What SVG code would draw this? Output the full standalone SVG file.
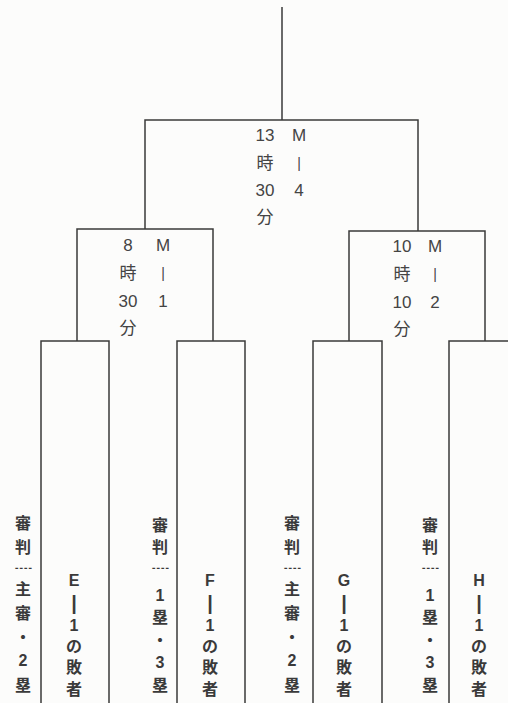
<svg xmlns="http://www.w3.org/2000/svg" width="508" height="703" viewBox="0 0 508 703">
<style>
.ln{fill:none;stroke:#3a3a3a;stroke-width:1.5}
.t{font-family:"Liberation Sans","Noto Sans CJK JP",sans-serif;font-size:17px;fill:#444;text-anchor:middle;dominant-baseline:central}
.bar{font-family:"Liberation Sans",sans-serif;font-size:14px;fill:#444;text-anchor:middle;dominant-baseline:central}
.b{font-family:"Liberation Sans","Noto Sans CJK JP",sans-serif;font-size:16px;font-weight:bold;fill:#3a3a3a;text-anchor:middle;dominant-baseline:central}
.vb{font-family:"Liberation Sans",sans-serif;font-size:20px;font-weight:bold;fill:#3a3a3a;text-anchor:middle;dominant-baseline:central}
.dd{font-family:"DejaVu Sans",sans-serif;font-size:14px;fill:#3a3a3a;text-anchor:middle;dominant-baseline:central}
</style>
<rect width="508" height="703" fill="#fcfcfb"/>
<g id="connectors">
<path class="ln" d="M282 7V120"/>
<path class="ln" d="M145 229V120H418V231"/>
<path class="ln" d="M77 341V229H213V341"/>
<path class="ln" d="M349 341V231H485V341"/>
</g>
<g id="m4">
<text class="t" x="265" y="135">13</text>
<text class="t" x="265" y="163">時</text>
<text class="t" x="265" y="190">30</text>
<text class="t" x="265" y="217">分</text>
<text class="t" x="299" y="135">M</text>
<text class="bar" x="299" y="163">|</text>
<text class="t" x="299" y="190">4</text>
</g>
<g id="m1">
<text class="t" x="128" y="245">8</text>
<text class="t" x="128" y="273">時</text>
<text class="t" x="128" y="301">30</text>
<text class="t" x="128" y="328">分</text>
<text class="t" x="163" y="245">M</text>
<text class="bar" x="163" y="273">|</text>
<text class="t" x="163" y="301">1</text>
</g>
<g id="m2">
<text class="t" x="402" y="246">10</text>
<text class="t" x="402" y="274">時</text>
<text class="t" x="402" y="302">10</text>
<text class="t" x="402" y="329">分</text>
<text class="t" x="435" y="246">M</text>
<text class="bar" x="435" y="274">|</text>
<text class="t" x="435" y="302">2</text>
</g>
<g id="ref-e">
<text class="b" x="23" y="523">審</text>
<text class="b" x="23" y="547">判</text>
<text class="dd" x="23" y="568" textLength="18" lengthAdjust="spacingAndGlyphs">┈</text>
<text class="b" x="23" y="589">主</text>
<text class="b" x="23" y="613">審</text>
<text class="b" x="23" y="637">・</text>
<text class="b" x="23" y="660">2</text>
<text class="b" x="23" y="685">塁</text>
</g>
<g id="e">
<path class="ln" d="M41 703V341H109V703"/>
<text class="b" x="74" y="580">E</text>
<text class="vb" x="74" y="603">|</text>
<text class="b" x="74" y="625">1</text>
<text class="b" x="74" y="646">の</text>
<text class="b" x="74" y="667">敗</text>
<text class="b" x="74" y="689">者</text>
</g>
<g id="ref-f">
<text class="b" x="160" y="525">審</text>
<text class="b" x="160" y="547">判</text>
<text class="dd" x="160" y="568" textLength="18" lengthAdjust="spacingAndGlyphs">┈</text>
<text class="b" x="160" y="595">1</text>
<text class="b" x="160" y="617">塁</text>
<text class="b" x="160" y="640">・</text>
<text class="b" x="160" y="662">3</text>
<text class="b" x="160" y="685">塁</text>
</g>
<g id="f">
<path class="ln" d="M177 703V341H245V703"/>
<text class="b" x="210" y="580">F</text>
<text class="vb" x="210" y="603">|</text>
<text class="b" x="210" y="625">1</text>
<text class="b" x="210" y="646">の</text>
<text class="b" x="210" y="667">敗</text>
<text class="b" x="210" y="689">者</text>
</g>
<g id="ref-g">
<text class="b" x="292" y="523">審</text>
<text class="b" x="292" y="547">判</text>
<text class="dd" x="292" y="568" textLength="18" lengthAdjust="spacingAndGlyphs">┈</text>
<text class="b" x="292" y="589">主</text>
<text class="b" x="292" y="613">審</text>
<text class="b" x="292" y="637">・</text>
<text class="b" x="292" y="660">2</text>
<text class="b" x="292" y="685">塁</text>
</g>
<g id="g">
<path class="ln" d="M313 703V341H382V703"/>
<text class="b" x="344" y="580">G</text>
<text class="vb" x="344" y="603">|</text>
<text class="b" x="344" y="625">1</text>
<text class="b" x="344" y="646">の</text>
<text class="b" x="344" y="667">敗</text>
<text class="b" x="344" y="689">者</text>
</g>
<g id="ref-h">
<text class="b" x="430" y="525">審</text>
<text class="b" x="430" y="547">判</text>
<text class="dd" x="430" y="568" textLength="18" lengthAdjust="spacingAndGlyphs">┈</text>
<text class="b" x="430" y="595">1</text>
<text class="b" x="430" y="617">塁</text>
<text class="b" x="430" y="640">・</text>
<text class="b" x="430" y="662">3</text>
<text class="b" x="430" y="685">塁</text>
</g>
<g id="h">
<path class="ln" d="M449 703V341H508"/>
<text class="b" x="479" y="580">H</text>
<text class="vb" x="479" y="603">|</text>
<text class="b" x="479" y="625">1</text>
<text class="b" x="479" y="646">の</text>
<text class="b" x="479" y="667">敗</text>
<text class="b" x="479" y="689">者</text>
</g>
</svg>
